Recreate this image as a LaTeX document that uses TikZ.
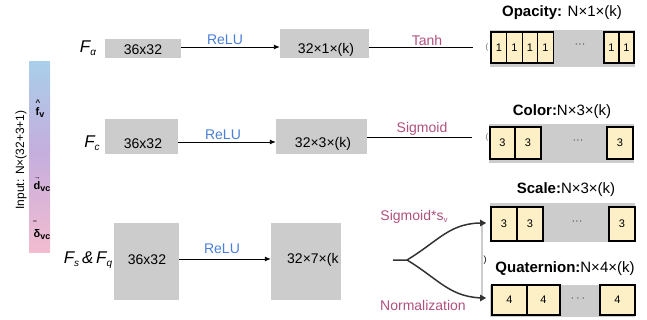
\documentclass[tikz,border=0pt]{standalone}
\usepackage{fontspec}
\setmainfont{Liberation Sans}
\usetikzlibrary{arrows.meta}
\definecolor{boxgray}{HTML}{CCCCCC}
\definecolor{cellfill}{HTML}{FDF0C6}
\definecolor{relucol}{HTML}{4A7FD8}
\definecolor{actcol}{HTML}{B0507F}
\definecolor{barblue}{HTML}{A9CFEA}
\definecolor{barpurple}{HTML}{C4AEDE}
\definecolor{barpink}{HTML}{F2BCD0}
\definecolor{linegray}{HTML}{333333}
\begin{document}
\begin{tikzpicture}[x=1pt,y=-1pt,
  graybox/.style={fill=boxgray,draw=none,inner sep=0pt},
  txt/.style={inner sep=0pt,font=\fontsize{14}{16}\selectfont},
  relulab/.style={inner sep=0pt,text=relucol,font=\fontsize{14}{16}\selectfont},
  actlab/.style={inner sep=0pt,text=actcol,font=\fontsize{14}{16}\selectfont},
  flab/.style={inner sep=0pt,font=\fontsize{17}{19}\selectfont\itshape},
  title/.style={inner sep=0pt,font=\fontsize{15}{17}\selectfont},
  cell/.style={fill=cellfill,draw=black,line width=1.4pt,inner sep=0pt,font=\fontsize{11}{13}\selectfont},
  conn/.style={draw=black,line width=0.9pt},
  arr/.style={conn,-{Latex[length=6pt,width=5pt]}},
  branch/.style={draw=linegray,line width=1.5pt},
  dots/.style={inner sep=0pt,font=\fontsize{11}{13}\selectfont,text=black!70},
  barlab/.style={inner sep=0pt,align=left,font=\fontsize{11}{10}\selectfont\bfseries}
]
\useasboundingbox (0,0) rectangle (647,320);

% ---------- input bar ----------
\shade[top color=barblue,bottom color=barpurple] (29,62) rectangle (50,150);
\shade[top color=barpurple,bottom color=barpink] (29,150) rectangle (50,252);
\node[fill=white,inner sep=1pt,rotate=90,font=\fontsize{12}{14}\selectfont] (inlab) at (21,160) {Input: N×(32+3+1)};
\node[barlab] (fv) at (40,109) {\fontsize{8}{6}\selectfont\^{}\\f\raisebox{-2pt}{\fontsize{9}{10}\selectfont v}};
\node[barlab] (dvc) at (42,185) {\fontsize{7}{6}\selectfont →\\d\raisebox{-2pt}{\fontsize{9}{10}\selectfont vc}};
\node[barlab] (dlt) at (42,230) {\fontsize{8}{6}\selectfont ‾\\δ\raisebox{-2pt}{\fontsize{9}{10}\selectfont vc}};

% ---------- row 1 : opacity ----------
\node[flab] (fa) at (88,48) {F\raisebox{-3pt}{\fontsize{10}{12}\selectfont α}};
\node[graybox,minimum width=76pt,minimum height=19pt] (a1) at (143,48.5) {};
\node[txt] (a1t) at (143,50) {36x32};
\node[graybox,minimum width=89pt,minimum height=29pt] (a2) at (324.5,43.5) {};
\node[txt] (a2t) at (326,50) {32×1×(k)};
\draw[arr] (a1.east |- 0,47) -- (a2.west |- 0,47);
\node[relulab] (r1) at (225,40) {ReLU};
\coordinate (tanhend) at (473,47);
\draw[conn] (a2.east |- 0,47) -- (tanhend);
\node[actlab] (tanh) at (427,40) {Tanh};
\node[inner sep=0pt,font=\fontsize{8}{9}\selectfont,text=black!60] (pa) at (487,47) {(};
\node[graybox,minimum width=145pt,minimum height=37pt] (opbar) at (562.5,48.5) {};
\node[cell,minimum width=16pt,minimum height=31pt] (o1) at (499,47.5) {1};
\node[cell,minimum width=15.5pt,minimum height=31pt] (o2) at (514.5,47.5) {1};
\node[cell,minimum width=15.5pt,minimum height=31pt] (o3) at (530,47.5) {1};
\node[cell,minimum width=15.5pt,minimum height=31pt] (o4) at (545.5,47.5) {1};
\node[dots] (od) at (580,46) {···};
\node[cell,minimum width=15pt,minimum height=31pt] (o5) at (611.5,47.5) {1};
\node[cell,minimum width=15pt,minimum height=31pt] (o6) at (626.5,47.5) {1};
\node[title] (opt) at (562,13) {\textbf{Opacity:} N×1×(k)};

% ---------- row 2 : color ----------
\node[flab] (fc) at (92,143) {F\raisebox{-3pt}{\fontsize{10}{12}\selectfont c}};
\node[graybox,minimum width=73pt,minimum height=35pt] (c1) at (141.5,136.5) {};
\node[txt] (c1t) at (143,144) {36x32};
\node[graybox,minimum width=91pt,minimum height=35pt] (c2) at (321.5,136.5) {};
\node[txt] (c2t) at (323,144) {32×3×(k)};
\draw[arr] (c1.east |- 0,142) -- (c2.west |- 0,142);
\node[relulab] (r2) at (223,135) {ReLU};
\coordinate (sigend) at (472,137);
\draw[conn] (c2.east |- 0,137) -- (sigend);
\node[actlab] (sig) at (422,129) {Sigmoid};
\node[inner sep=0pt,font=\fontsize{8}{9}\selectfont,text=black!60] (pc) at (487,137) {(};
\node[graybox,minimum width=145pt,minimum height=39pt] (colbar) at (561.5,143.5) {};
\node[cell,minimum width=25pt,minimum height=32pt] (k1) at (502.5,143) {3};
\node[cell,minimum width=26pt,minimum height=32pt] (k2) at (528,143) {3};
\node[dots] (kd) at (578,142) {···};
\node[cell,minimum width=26pt,minimum height=32pt] (k3) at (620,143) {3};
\node[title] (colt) at (562,112) {\textbf{Color:}N×3×(k)};

% ---------- row 3 : scale & quaternion ----------
\node[flab] (fsq) at (88,260) {F\raisebox{-3pt}{\fontsize{10}{12}\selectfont s}\,\&\,F\raisebox{-3pt}{\fontsize{10}{12}\selectfont q}};
\node[graybox,minimum width=65pt,minimum height=77pt] (s1) at (146.5,261.5) {};
\node[txt] (s1t) at (147,260) {36x32};
\node[graybox,minimum width=70pt,minimum height=77pt] (s2) at (306,261.5) {};
\node[txt,anchor=west] (s2t) at (287,260) {32×7×(k};
\draw[arr] (s1.east |- 0,259) -- (s2.west |- 0,259);
\node[relulab] (r3) at (222,249) {ReLU};

\coordinate (bstart) at (393,260);
\coordinate (bmid) at (407,260);
\coordinate (bup) at (485,223);
\coordinate (bdown) at (485,298);
\draw[draw=boxgray,line width=1.2pt] (482,221) -- (482,299);
\node[inner sep=0pt,font=\fontsize{9}{10}\selectfont] (par) at (485,260) {)};
\draw[branch] (bstart) -- (bmid) .. controls (440,240) and (450,222) .. (bup);
\draw[branch] (bmid) .. controls (440,280) and (450,298) .. (bdown);
\fill[linegray] (bup) ++(-5,-3.5) -- ++(6,3.5) -- ++(-6,3.5) -- cycle;
\fill[linegray] (bdown) ++(-5,-3.5) -- ++(6,3.5) -- ++(-6,3.5) -- cycle;
\node[actlab] (sigs) at (414,217) {Sigmoid*s\raisebox{-2pt}{\fontsize{8}{9}\selectfont v}};
\node[actlab] (norm) at (423,305) {Normalization};

\node[graybox,minimum width=145pt,minimum height=39pt] (scbar) at (562.5,222.5) {};
\node[cell,minimum width=26pt,minimum height=34pt] (sc1) at (504,224) {3};
\node[cell,minimum width=26pt,minimum height=34pt] (sc2) at (530,224) {3};
\node[dots] (scd) at (577,223) {···};
\node[cell,minimum width=26pt,minimum height=34pt] (sc3) at (622,224) {3};
\node[title] (sct) at (566,190) {\textbf{Scale:}N×3×(k)};

\node[graybox,minimum width=145pt,minimum height=32pt] (qbar) at (562.5,301) {};
\node[cell,minimum width=35pt,minimum height=30pt] (q1) at (509.5,300) {4};
\node[cell,minimum width=33pt,minimum height=30pt] (q2) at (543.5,300) {4};
\node[dots] (qd) at (578,300) {·\,·\,·};
\node[cell,minimum width=35pt,minimum height=30pt] (q3) at (617.5,300) {4};
\node[title] (qt) at (565,269) {\textbf{Quaternion:}N×4×(k)};
\end{tikzpicture}
\end{document}
